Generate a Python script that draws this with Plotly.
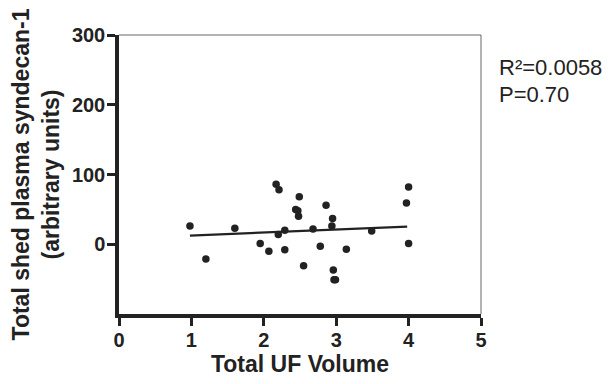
import plotly.graph_objects as go

uf_volume = [0.98, 1.20, 1.60, 1.95, 2.07, 2.17, 2.21, 2.20, 2.29, 2.29, 2.49, 2.44, 2.47, 2.48,
             2.55, 2.68, 2.78, 2.86, 2.95, 2.94, 2.96, 2.97, 2.99, 3.14, 3.49, 3.97, 4.00, 4.00]
syndecan = [26, -21, 23, 1, -10, 86, 78, 14, 20, -8, 68, 50, 48, 40,
            -31, 22, -3, 56, 37, 26, -37, -51, -51, -7, 19, 59, 82, 1]
fit_x = [0.98, 3.98]
fit_y = [12.5, 25.4]

x_ticks = [0, 1, 2, 3, 4, 5]
y_ticks = [0, 100, 200, 300]
stats_lines = ["R²=0.0058", "P=0.70"]

FONT = "Liberation Sans, Arial, sans-serif"
INK = "#222"

fig = go.Figure()
fig.add_trace(go.Scatter(x=fit_x, y=fit_y, mode="lines",
                         line=dict(color=INK, width=2.2), showlegend=False))
fig.add_trace(go.Scatter(x=uf_volume, y=syndecan, mode="markers",
                         marker=dict(color=INK, size=7.5), showlegend=False))

axis_common = dict(showgrid=False, zeroline=False, automargin=False,
                   showline=True, linecolor=INK, linewidth=3.5,
                   ticks="outside", ticklen=8, tickwidth=3, tickcolor=INK,
                   tickfont=dict(size=20, weight="bold", family=FONT, color=INK))

# page body has an 8px default margin, so the figure is offset by 8px
fig.update_layout(
    width=602, height=376,
    margin=dict(l=111, r=129, t=27, b=70),
    paper_bgcolor="white", plot_bgcolor="white",
    font=dict(family=FONT, color=INK),
    xaxis=dict(range=[0, 5], tickvals=x_ticks, ticklabelstandoff=-3,
               title=dict(text="Total UF Volume", standoff=6,
                          font=dict(size=23, weight="bold", family=FONT, color=INK)),
               **axis_common),
    yaxis=dict(range=[-100, 300], tickvals=y_ticks, ticklabelstandoff=-2,
               title=dict(text="Total shed plasma syndecan-1<br>(arbitrary units)", standoff=10,
                          font=dict(size=23, weight="bold", family=FONT, color=INK)),
               **axis_common),
    shapes=[
        dict(type="line", xref="paper", yref="paper", x0=0, x1=1, y0=1, y1=1,
             line=dict(color="#666", width=1)),
        dict(type="line", xref="paper", yref="paper", x0=1, x1=1, y0=0, y1=1,
             line=dict(color="#666", width=1)),
    ],
    annotations=[dict(text=t, xref="paper", yref="paper", x=1.044, y=yy,
                      xanchor="left", yanchor="top", showarrow=False, align="left",
                      font=dict(size=22, family=FONT, color=INK))
                 for t, yy in zip(stats_lines, [0.935, 0.840])],
)

fig.write_html("out.html")
